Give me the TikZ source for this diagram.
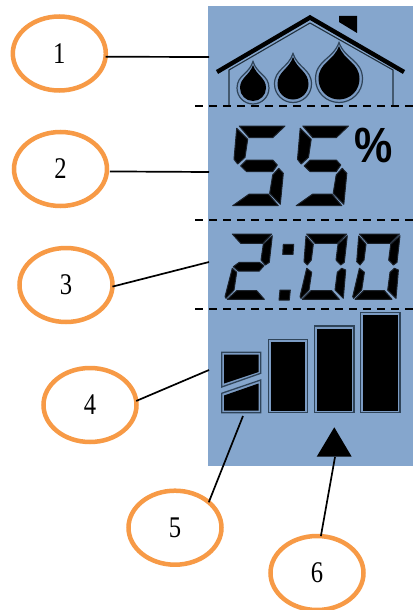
\documentclass[tikz,border=0pt]{standalone}
\usepackage{fontspec}
\setmainfont{Liberation Serif}
\newfontfamily\pctfont{Liberation Sans}
\usetikzlibrary{shapes.geometric}
\definecolor{panelblue}{HTML}{85A6CD}
\definecolor{ringorange}{HTML}{F79A46}
\definecolor{edgedark}{HTML}{2F4459}
\definecolor{gapblue}{HTML}{7C9CC4}
\tikzset{
  callout/.style={ellipse,draw=ringorange,line width=4.5pt,outer sep=0pt,inner sep=0pt,minimum width=93pt,minimum height=74pt},
  leader/.style={black,line width=1.7pt},
  sep/.style={black,line width=1.5pt,dash pattern=on 8pt off 6pt},
  seg/.style={fill=black,draw=black!80!panelblue,line width=1pt,line join=round},
  barouter/.style={fill=gapblue,draw=edgedark,line width=1.3pt},
  barinner/.style={fill=black},
}
\newcommand{\lbl}[1]{\scalebox{.82}[1]{\fontsize{30}{30}\selectfont #1}}
\newcommand{\mydrop}[4]{%
  % cx cy r top
  \path[fill=gapblue,draw=edgedark,line width=1.2pt]
    (#1,{#4-3.5}) .. controls ({#1+.25*(#3+3)},{#4+.4*(#2-#4)}) and ({#1+(#3+3)},{#2-.8*(#3+3)}) .. ({#1+#3+3},#2)
    arc (0:180:{#3+3})
    .. controls ({#1-(#3+3)},{#2-.8*(#3+3)}) and ({#1-.25*(#3+3)},{#4+.4*(#2-#4)}) .. (#1,{#4-3.5}) -- cycle;
  \path[fill=black]
    (#1,#4) .. controls ({#1+.25*#3},{#4+.45*(#2-#4)}) and ({#1+#3},{#2-.8*#3}) .. ({#1+#3},#2)
    arc (0:180:#3)
    .. controls ({#1-#3},{#2-.8*#3}) and ({#1-.25*#3},{#4+.45*(#2-#4)}) .. (#1,#4) -- cycle;
}
% large digit segments of a five
\newcommand{\bigfive}{%
  \path[seg] (239.3,126)--(285,126)--(272.7,137.7)--(249.3,137.7)--cycle;
  \path[seg] (236.7,128.3)--(247.7,139.3)--(245,157.3)--(237.7,164)--(234,159.3)--cycle;
  \path[seg] (246.7,160)--(272.7,160)--(277.3,165)--(272.7,171.7)--(246.7,171.7)--(240.7,166)--cycle;
  \path[seg] (278.7,168.3)--(283.3,173.3)--(280.3,204.3)--(269.7,193.3)--(272.7,175)--cycle;
  \path[seg] (249.3,194)--(268.3,194)--(278.3,205.7)--(232.7,205.7)--cycle;
}
% small zero
\newcommand{\smallzero}{%
  \path[seg] (306.7,234)--(346.7,234)--(337.3,243.3)--(315,243.3)--cycle;
  \path[seg] (306,236)--(313.3,244.3)--(311.3,260)--(307.3,265)--(304,261.7)--cycle;
  \path[seg] (347.3,235.7)--(344.3,262.3)--(340.7,265)--(336,260)--(338,244.3)--cycle;
  \path[seg] (306.7,268.3)--(311.7,272.3)--(309,290)--(301,298.3)--(300,296.7)--cycle;
  \path[seg] (341.7,268.3)--(345.7,270)--(343.3,298.3)--(335,290)--(337.3,272.3)--cycle;
  \path[seg] (311,290.7)--(331.7,290.7)--(339.3,299.3)--(302.3,299.3)--cycle;
}
\begin{document}
\begin{tikzpicture}[x=1pt,y=-1pt]
\useasboundingbox[fill=white] (0,0) rectangle (418,610);
\fill[panelblue] (208,6) rectangle (413,466);

% house
\mydrop{253}{88}{13}{65}
\mydrop{293}{84}{15.5}{57}
\mydrop{339}{79}{20.5}{46}
\draw[edgedark!70!black,line width=1.1pt] (229,106)--(229,70)--(310,23)--(393,70)--(393,106);
\draw[black,line width=4.4pt,line join=miter] (217,72)--(310,17.5)--(404,72);
\fill[black] (339,16)--(357,16)--(357,33)--(339,22)--cycle;

% separators
\coordinate (s1a) at (195,106); \coordinate (s1b) at (414,106);
\coordinate (s2a) at (195,220); \coordinate (s2b) at (414,220);
\coordinate (s3a) at (195,309); \coordinate (s3b) at (414,309);
\draw[sep] (s1a)--(s1b);
\draw[sep] (s2a)--(s2b);
\draw[sep] (s3a)--(s3b);

% humidity digits
\bigfive
\begin{scope}[xshift=63.5pt]\bigfive\end{scope}
\node[inner sep=0pt] (pct) at (374,145) {\scalebox{1}[1.15]{\pctfont\bfseries\fontsize{43}{43}\selectfont\%}};

% time digits
\path[seg] (232.3,234)--(271.7,234)--(262.7,243.3)--(240.7,243.3)--cycle;
\path[seg] (272.3,235.7)--(269.3,262.3)--(265.3,265)--(261,260)--(263.3,244.3)--cycle;
\path[seg] (239.3,262.3)--(259.3,262.3)--(264,265.7)--(259.3,271)--(238.3,271)--(233.3,266.7)--cycle;
\path[seg] (232.3,268.3)--(236.7,272.3)--(234,290)--(226,298.3)--(225,296.7)--cycle;
\path[seg] (236.7,290.7)--(256.7,290.7)--(264.3,299.3)--(227.3,299.3)--cycle;
\path[seg] (283.3,244.3)--(293.7,244.3)--(293,254.3)--(282.7,254.3)--cycle;
\path[seg] (280,290)--(290.3,290)--(289.3,300)--(279,300)--cycle;
\smallzero
\begin{scope}[xshift=52.7pt]\smallzero\end{scope}

% bars
\path[barouter] (221.7,352.3)--(260.7,352.3)--(260.7,373.3)--(221.7,387)--cycle;
\path[barinner] (224,354.5)--(258.5,354.5)--(258.5,372)--(224,383.5)--cycle;
\path[barouter] (221.7,393.3)--(260.7,380)--(260.7,412.7)--(221.7,412.7)--cycle;
\path[barinner] (224,395.5)--(258.5,383.5)--(258.5,410.5)--(224,410.5)--cycle;
\path[barouter] (268.3,339.7) rectangle (307.3,412.7);
\path[barinner] (270.5,342) rectangle (305,410.5);
\path[barouter] (314.7,326) rectangle (354,412.7);
\path[barinner] (317,328.5) rectangle (351.5,410.5);
\path[barouter] (360.7,312.7) rectangle (400,412.7);
\path[barinner] (363,315) rectangle (397.5,410.5);
\coordinate (t6) at (335,457);
\fill[black] (334.3,427.3)--(351.7,456.7)--(316.7,456.7)--cycle;

% callouts
\node[callout] (n1) at (59.3,53.5) {\lbl{1}};
\node[callout] (n2) at (60.5,169) {\lbl{2}};
\node[callout] (n3) at (66,285) {\lbl{3}};
\node[callout] (n4) at (90,405) {\lbl{4}};
\node[callout] (n5) at (175,527.7) {\lbl{5}};
\node[callout] (n6) at (317,573) {\lbl{6}};

\coordinate (t1) at (209,57);
\coordinate (t2) at (209,172);
\coordinate (t3) at (209,262);
\coordinate (t4) at (209,370);
\coordinate (t5) at (243,416);
\draw[leader] (n1.-4.3) -- (t1);
\draw[leader,shorten <=3pt] (n2.-3.4) -- (t2);
\draw[leader] (n3.-2.5) -- (t3);
\draw[leader] (n4.5) -- (t4);
\draw[leader] (n5.37.7) -- (t5);
\draw[leader] (n6.84) -- (t6);
\end{tikzpicture}
\end{document}
